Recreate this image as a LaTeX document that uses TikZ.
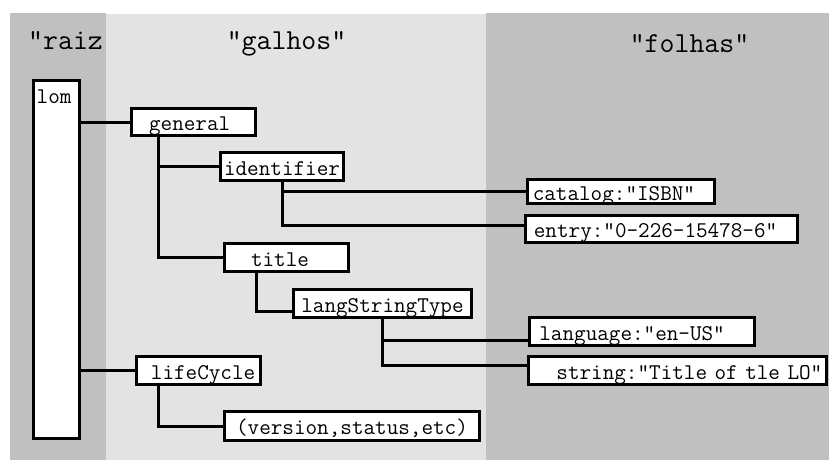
\documentclass[tikz,border=0pt]{standalone}
\usepackage{fontspec}
\newcommand\lomnodefont{\ttfamily\fontsize{22.5}{25}\selectfont}
\newcommand\lomheadfont{\ttfamily\fontsize{29}{32}\selectfont}
\definecolor{darkpanel}{HTML}{C0C0C0}
\definecolor{lightpanel}{HTML}{E3E3E3}
\tikzset{
  box/.style={draw=black, fill=white, line width=3pt, inner ysep=0pt, inner xsep=0pt,
    outer sep=0pt, font=\lomnodefont, text height=17pt, text depth=0pt},
  wire/.style={draw=black, line width=3pt},
  heading/.style={font=\lomheadfont, anchor=base, inner sep=0pt},
}
\begin{document}
\begin{tikzpicture}[x=1pt, y=-1pt]
\useasboundingbox (0,0) rectangle (829,460);
% panels
\fill[darkpanel] (10,13) rectangle (106,460);
\fill[darkpanel] (486,13) rectangle (829,460);
\fill[lightpanel] (106,14) rectangle (486,460);
% headings
\node[heading, anchor=base west] (hraiz) at (28,50) {"raiz};
\node[heading] (hgalhos) at (286.5,49.5) {"galhos"};
\node[heading] (hfolhas) at (689.5,52.5) {"folhas"};
% nodes
\node[box, minimum width=46pt, minimum height=358pt,
  label={[anchor=base west, inner sep=0pt, font=\lomnodefont, xshift=3pt, yshift=-22.5pt]north west:lom}]
  (lom) at (56.5,259.5) {};
\node[box, minimum width=124pt, minimum height=27pt, text width=88.8pt, inner xsep=17.6pt, align=left]
  (general) at (193.5,122) {general};
\node[box, minimum width=123pt, minimum height=28pt]
  (identifier) at (282,166.5) {identifier};
\node[box, minimum width=187pt, minimum height=24pt, text width=176.4pt, inner xsep=5.3pt, align=left]
  (catalog) at (621,191.5) {catalog:"ISBN"};
\node[box, minimum width=272pt, minimum height=27pt, text width=255.2pt, inner xsep=8.4pt, align=left]
  (entry) at (661.5,229) {entry:"0-226-15478-6"};
\node[box, minimum width=124pt, minimum height=28pt, text width=71pt, inner xsep=26.5pt, align=left]
  (title) at (286.5,257.5) {title};
\node[box, minimum width=178pt, minimum height=28pt]
  (langstring) at (382.5,303.5) {langStringType};
\node[box, minimum width=225pt, minimum height=28pt, text width=205.2pt, inner xsep=9.9pt, align=left]
  (language) at (642,331.5) {language:"en-US"};
\node[box, minimum width=298pt, minimum height=28pt, text width=289.6pt, inner xsep=4.2pt, align=right]
  (string) at (677.5,370.5) {string:"Title of tle LO"};
\node[box, minimum width=124pt, minimum height=28pt, text width=113.4pt, inner xsep=5.3pt, align=right]
  (lifecycle) at (198.5,370.5) {lifeCycle};
\node[box, minimum width=255pt, minimum height=29pt]
  (version) at (352,426) {(version,status,etc)};
% connectors
\coordinate (gv) at ([xshift=26.5pt]general.south west);
\coordinate (tv) at ([xshift=31.5pt]title.south west);
\coordinate (lv) at ([xshift=21.5pt]lifecycle.south west);
\draw[wire] (general.west) -- (general.west -| lom.east);
\draw[wire] (lifecycle.west) -- (lifecycle.west -| lom.east);
\draw[wire] (gv) |- (title.west);
\draw[wire] (identifier.west) -- (identifier.west -| gv);
\draw[wire] (identifier.south) |- ([yshift=4pt]entry.west);
\draw[wire] (catalog.west) -- (catalog.west -| identifier.south);
\draw[wire] (tv) |- ([yshift=-7.5pt]langstring.west);
\draw[wire] (langstring.south) |- ([yshift=5.5pt]string.west);
\draw[wire] ([yshift=-8.5pt]language.west) -- ([yshift=-8.5pt]language.west -| langstring.south);
\draw[wire] (lv) |- (version.west);
\end{tikzpicture}
\end{document}
